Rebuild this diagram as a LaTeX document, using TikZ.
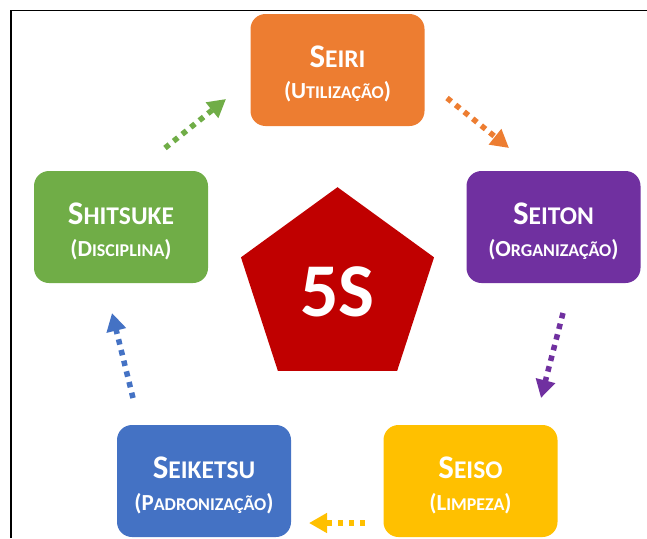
\documentclass[tikz,border=0pt]{standalone}
\usepackage{fontspec}
\setmainfont{Carlito}
\usetikzlibrary{arrows.meta,shapes.geometric}

\definecolor{laranja}{HTML}{ED7D31}
\definecolor{roxo}{HTML}{7030A0}
\definecolor{ouro}{HTML}{FFC000}
\definecolor{azul}{HTML}{4472C4}
\definecolor{verde}{HTML}{70AD47}
\definecolor{vermelho}{HTML}{C00000}

% versaletes feitos a mao
\newcommand{\nomeS}[2]{{\fontsize{33}{33}\selectfont #1}{\fontsize{25.5}{25.5}\selectfont #2}}
\newcommand{\traducao}[2]{{\fontsize{23}{23}\selectfont (#1}{\fontsize{18}{18}\selectfont #2}{\fontsize{23}{23}\selectfont )}}

\tikzset{
  caixa/.style={rectangle, rounded corners=15pt, minimum width=174pt, minimum height=112pt, inner sep=0pt, fill=#1},
  titulo/.style={anchor=base, text=white, font=\bfseries, inner sep=0pt},
  seta/.style={draw=#1, line width=5.5pt, dash pattern=on 5.5pt off 5.5pt, -{Triangle[length=18pt,width=19pt]}}
}

\begin{document}
\begin{tikzpicture}[x=1pt,y=-1pt]
                \useasboundingbox (0,0) rectangle (647,538);
                \draw [line width=1.5pt] (11,538) -- (11,10.5) -- (647,10.5);

                \node [regular polygon, regular polygon sides=5, minimum size=203pt, inner sep=0pt, fill=vermelho, text=white, font=\bfseries\fontsize{76}{76}\selectfont, text height=56pt] (cinco) at (337.5,288.7) {5S};

                \node [caixa=laranja] (seiri) at (337.5,70) {};
                \node [caixa=roxo] (seiton) at (553.5,227) {};
                \node [caixa=ouro] (seiso) at (470.5,481) {};
                \node [caixa=azul] (seiketsu) at (204,481) {};
                \node [caixa=verde] (shitsuke) at (121,227) {};

                \node [titulo] at ([yshift=3pt]seiri.center) {\nomeS{S}{EIRI}};
                \node [titulo] at ([yshift=-28pt]seiri.center) {\traducao{U}{TILIZAÇÃO}};
                \node [titulo] at ([yshift=3pt]seiton.center) {\nomeS{S}{EITON}};
                \node [titulo] at ([yshift=-29pt]seiton.center) {\traducao{O}{RGANIZAÇÃO}};
                \node [titulo] at ([yshift=3pt]seiso.center) {\nomeS{S}{EISO}};
                \node [titulo] at ([yshift=-29pt]seiso.center) {\traducao{L}{IMPEZA}};
                \node [titulo] at ([yshift=3pt]seiketsu.center) {\nomeS{S}{EIKETSU}};
                \node [titulo] at ([yshift=-29pt]seiketsu.center) {\traducao{P}{ADRONIZAÇÃO}};
                \node [titulo] at ([yshift=3pt]shitsuke.center) {\nomeS{S}{HITSUKE}};
                \node [titulo] at ([yshift=-29pt]shitsuke.center) {\traducao{D}{ISCIPLINA}};

                \coordinate (a1) at (447,98);  \coordinate (b1) at (509,148);
                \coordinate (a2) at (563,313); \coordinate (b2) at (541,398);
                \coordinate (a3) at (365,523); \coordinate (b3) at (309,523);
                \coordinate (a4) at (133,398); \coordinate (b4) at (112,313);
                \coordinate (a5) at (165,148); \coordinate (b5) at (226,99);

                \draw [seta=laranja] (a1) -- (b1);
                \draw [seta=roxo] (a2) -- (b2);
                \draw [seta=ouro] (a3) -- (b3);
                \draw [seta=azul] (a4) -- (b4);
                \draw [seta=verde] (a5) -- (b5);
            \end{tikzpicture}
\end{document}
